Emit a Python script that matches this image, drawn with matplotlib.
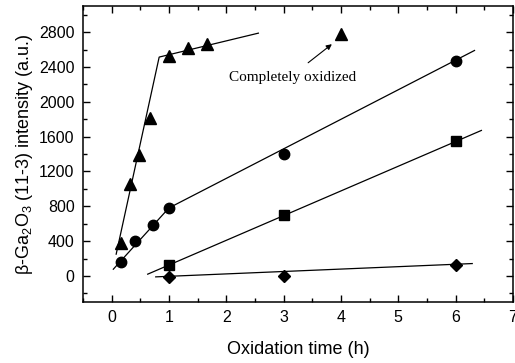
import matplotlib
matplotlib.use("Agg")
import matplotlib.pyplot as plt
from matplotlib.ticker import MultipleLocator

plt.rcParams['font.family'] = ['Liberation Sans', 'DejaVu Sans']
plt.rcParams['mathtext.fontset'] = 'custom'
plt.rcParams['mathtext.rm'] = 'Liberation Sans'
plt.rcParams['mathtext.it'] = 'Liberation Sans:italic'
plt.rcParams['mathtext.default'] = 'regular'

# Data
tri_x = [0.16, 0.32, 0.48, 0.67, 1.0, 1.33, 1.67]
tri_y = [383, 1053, 1386, 1818, 2526, 2614, 2660]
tri_full_x = [4.0]
tri_full_y = [2775]
circ_x = [0.16, 0.40, 0.73, 1.0, 3.0, 6.0]
circ_y = [165, 402, 582, 781, 1405, 2468]
sq_x = [1.0, 3.0, 6.0]
sq_y = [123, 697, 1554]
dia_x = [1.0, 3.0, 6.0]
dia_y = [-7, 0, 126]

# Guide lines (endpoints)
tri_line_x = [0.08, 0.83, 2.56]
tri_line_y = [250, 2515, 2790]
circ_line1_x = [0.03, 1.0]
circ_line1_y = [77, 781]
circ_line2_x = [1.0, 6.33]
circ_line2_y = [781, 2591]
sq_line_x = [0.63, 6.45]
sq_line_y = [20, 1672]
dia_line_x = [0.77, 6.29]
dia_line_y = [-11, 142]

x_ticks = [0, 1, 2, 3, 4, 5, 6, 7]
y_ticks = [0, 400, 800, 1200, 1600, 2000, 2400, 2800]

fig = plt.figure(figsize=(5.15, 3.63), dpi=100)
ax = fig.add_axes([0.161, 0.168, 0.835, 0.815])

lw = 0.9
ax.plot(tri_line_x, tri_line_y, color='black', lw=lw)
ax.plot(circ_line1_x, circ_line1_y, color='black', lw=lw)
ax.plot(circ_line2_x, circ_line2_y, color='black', lw=lw)
ax.plot(sq_line_x, sq_line_y, color='black', lw=lw)
ax.plot(dia_line_x, dia_line_y, color='black', lw=lw)

ax.plot(tri_x, tri_y, '^', color='black', ms=8.5, ls='none')
ax.plot(tri_full_x, tri_full_y, '^', color='black', ms=8.5, ls='none')
ax.plot(circ_x, circ_y, 'o', color='black', ms=7.5, ls='none')
ax.plot(sq_x, sq_y, 's', color='black', ms=6.5, ls='none')
ax.plot(dia_x, dia_y, 'D', color='black', ms=6.5, ls='none')

ax.annotate('', xy=(3.88, 2683), xytext=(3.39, 2430),
            arrowprops=dict(arrowstyle='-|>', color='black', lw=0.8,
                            mutation_scale=8))
ax.text(2.05, 2281, 'Completely oxidized', family=['Liberation Serif'],
        fontsize=11, va='center', ha='left')

ax.set_xlim(-0.5, 7)
ax.set_ylim(-300, 3100)
ax.set_xticks(x_ticks)
ax.set_yticks(y_ticks)
ax.xaxis.set_minor_locator(MultipleLocator(0.5))
ax.yaxis.set_minor_locator(MultipleLocator(200))
ax.tick_params(which='both', direction='in', top=True, right=True,
               labelsize=11.5, width=1.0, pad=6)
ax.tick_params(which='major', length=5)
ax.tick_params(which='minor', length=3)
for s in ax.spines.values():
    s.set_linewidth(1.1)

ax.set_xlabel('Oxidation time (h)', fontsize=13, labelpad=11)
ax.set_ylabel('β-Ga$_2$O$_3$ (11-3) intensity (a.u.)', fontsize=13, labelpad=3)

fig.savefig('out.png', dpi=100)
